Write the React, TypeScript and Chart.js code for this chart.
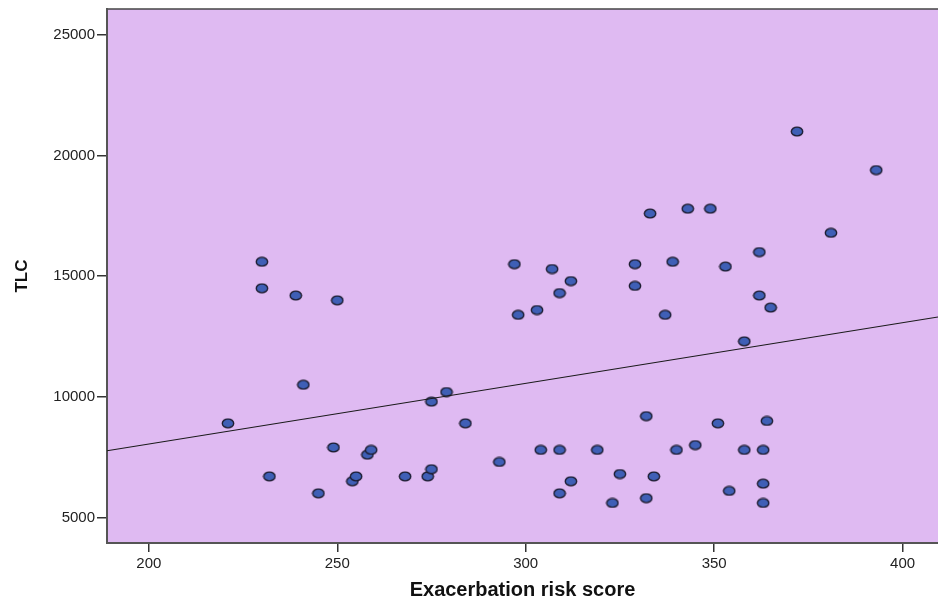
import React, { useEffect, useRef } from "react";
import { Chart, registerables } from "chart.js";

Chart.register(...registerables);

// Exacerbation risk score (x) and TLC (y)
const riskScores = [
  221, 230, 230, 232, 239, 241, 245, 249, 250, 254,
  255, 258, 259, 268, 274, 275, 275, 279, 284, 293,
  297, 298, 303, 304, 307, 309, 309, 309, 312, 312,
  319, 323, 325, 329, 329, 332, 332, 333, 334, 337,
  339, 340, 343, 345, 349, 351, 353, 354, 358, 358,
  362, 362, 363, 363, 363, 364, 365, 372, 381, 393,
];
const tlcValues = [
  8900, 15600, 14500, 6700, 14200, 10500, 6000, 7900, 14000, 6500,
  6700, 7600, 7800, 6700, 6700, 7000, 9800, 10200, 8900, 7300,
  15500, 13400, 13600, 7800, 15300, 14300, 7800, 6000, 14800, 6500,
  7800, 5600, 6800, 15500, 14600, 9200, 5800, 17600, 6700, 13400,
  15600, 7800, 17800, 8000, 17800, 8900, 15400, 6100, 12300, 7800,
  16000, 14200, 7800, 6400, 5600, 9000, 13700, 21000, 16800, 19400,
];
// Fit line end points (as drawn across the plot)
const fitX = [188.9, 409.4];
const fitY = [7765, 13309];

const xRange = [188.9, 409.4];
const yRange = [3940, 26080];
const xTicks = [200, 250, 300, 350, 400];
const yTicks = [5000, 10000, 15000, 20000, 25000];

const xTitle = "Exacerbation risk score";
const yTitle = "TLC";

function makeDot(): HTMLCanvasElement {
  const c = document.createElement("canvas");
  c.width = 14;
  c.height = 11;
  const g = c.getContext("2d")!;
  g.beginPath();
  g.ellipse(7, 5.5, 5.7, 4.4, 0, 0, Math.PI * 2);
  g.fillStyle = "#3f5fb6";
  g.fill();
  g.lineWidth = 1.4;
  g.strokeStyle = "#1c1c30";
  g.stroke();
  return c;
}

const bgPlugin = {
  id: "plotBg",
  beforeDraw(chart: any) {
    const { ctx, chartArea } = chart;
    if (!chartArea) return;
    ctx.save();
    ctx.fillStyle = "#dfbaf2";
    ctx.fillRect(chartArea.left, chartArea.top, chartArea.right - chartArea.left, chartArea.bottom - chartArea.top);
    ctx.strokeStyle = "#444";
    ctx.lineWidth = 1.5;
    ctx.beginPath();
    ctx.moveTo(chartArea.left, chartArea.top);
    ctx.lineTo(chartArea.right, chartArea.top);
    ctx.stroke();
    ctx.restore();
  },
};

const plain = (v: any) => String(v);

export default function App() {
  const ref = useRef<HTMLCanvasElement>(null);
  useEffect(() => {
    if (!ref.current) return;
    const dot = makeDot();
    const points = riskScores.map((x, i) => ({ x, y: tlcValues[i] }));
    const fit = fitX.map((x, i) => ({ x, y: fitY[i] }));
    const font = "Arial, 'Liberation Sans', sans-serif";
    const chart = new Chart(ref.current, {
      type: "scatter",
      data: {
        datasets: [
          {
            type: "line",
            data: fit,
            borderColor: "#1a1a1a",
            borderWidth: 1.1,
            pointRadius: 0,
            fill: false,
          } as any,
          {
            data: points,
            pointStyle: dot as any,
            pointRadius: 6,
            backgroundColor: "#3f5fb6",
            borderColor: "#1c1c30",
          },
        ],
      },
      options: {
        animation: false,
        responsive: false,
        devicePixelRatio: 1,
        layout: { autoPadding: false, padding: { top: 9, left: 0, right: 0, bottom: 0 } },
        plugins: { legend: { display: false }, tooltip: { enabled: false } },
        scales: {
          x: {
            type: "linear",
            min: xRange[0],
            max: xRange[1],
            afterFit(scale: any) {
              scale.height = 60;
              scale.paddingLeft = 0;
              scale.paddingRight = 0;
            },
            afterBuildTicks(scale: any) {
              scale.ticks = xTicks.map((v) => ({ value: v }));
            },
            grid: { drawOnChartArea: false, drawTicks: true, tickLength: 9, color: "#333", lineWidth: 1.5 },
            border: { display: true, color: "#555", width: 2 },
            ticks: { padding: 3, color: "#222", font: { family: font, size: 15 }, callback: plain },
            title: {
              display: true,
              text: xTitle,
              color: "#111",
              font: { family: font, size: 20, weight: "bold" },
              padding: { top: 0, bottom: 1 },
            },
          },
          y: {
            type: "linear",
            min: yRange[0],
            max: yRange[1],
            afterFit(scale: any) {
              scale.width = 107;
              scale.paddingTop = 0;
              scale.paddingBottom = 0;
            },
            afterBuildTicks(scale: any) {
              scale.ticks = yTicks.map((v) => ({ value: v }));
            },
            grid: { drawOnChartArea: false, drawTicks: true, tickLength: 10, color: "#333", lineWidth: 1.5 },
            border: { display: true, color: "#555", width: 2 },
            ticks: { padding: 2, color: "#222", font: { family: font, size: 15 }, callback: plain },
            title: {
              display: true,
              text: yTitle,
              color: "#111",
              font: { family: font, size: 17, weight: "bold" },
              padding: { top: 12, bottom: 0 },
            },
          },
        },
      },
      plugins: [bgPlugin],
    });
    return () => chart.destroy();
  }, []);
  return (
    <div style={{ position: "absolute", left: 0, top: 0, width: 938, height: 603, background: "#fff" }}>
      <canvas ref={ref} width={938} height={603} style={{ display: "block" }} />
    </div>
  );
}
